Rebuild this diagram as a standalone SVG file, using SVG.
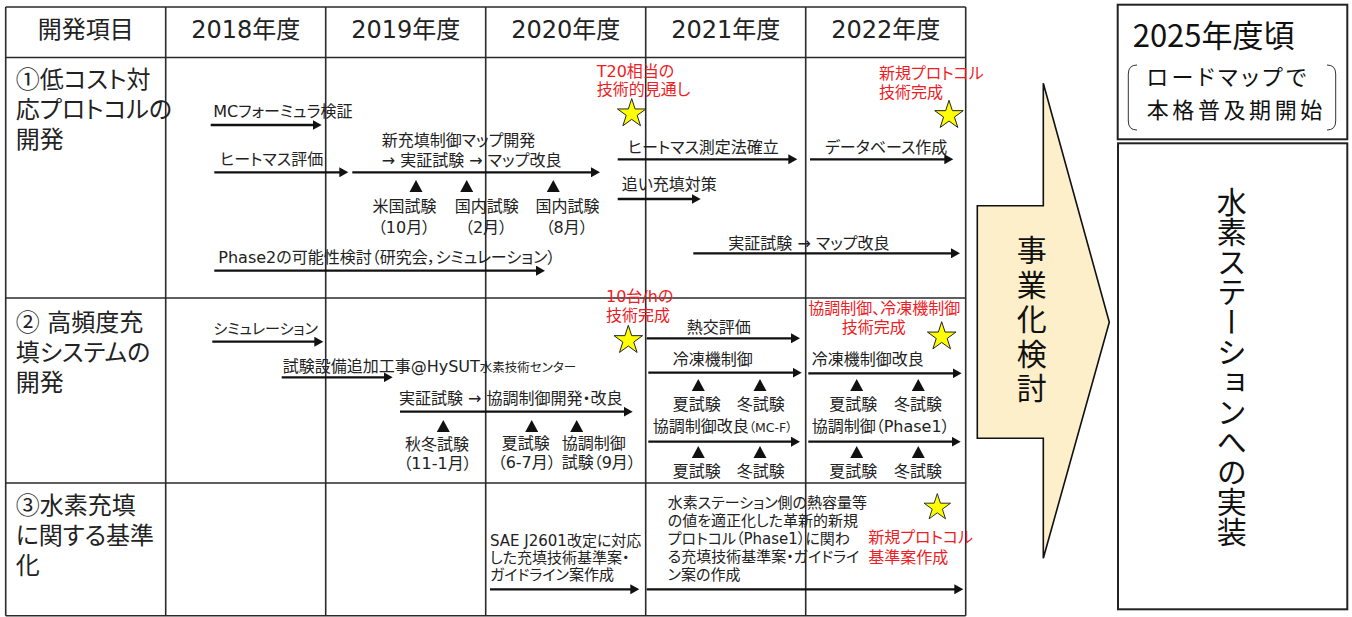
<svg xmlns="http://www.w3.org/2000/svg" width="1352" height="617" viewBox="0 0 1352 617">
<style>
text{font-family:"DejaVu Sans","Noto Sans CJK JP",sans-serif;fill:#222;font-feature-settings:"palt" 1;}
.hd{font-size:24px;text-anchor:middle;}
.lb{font-size:24px;}
.t{font-size:16px;}
.ts{font-size:15px;}
.sm{font-size:12.5px;}
.c{text-anchor:middle;}
.r{fill:#EE1C25;font-size:16px;}
.cj{font-family:"Noto Sans CJK JP",sans-serif;}
.grid line{stroke:#2a2a2a;stroke-width:1.6;}
.conn line{stroke:#111;stroke-width:2.3;marker-end:url(#ah);}
.box{fill:#fff;stroke:#222;stroke-width:2;}
.star{fill:#FFFF00;stroke:#222;stroke-width:1;}
.tri{fill:#111;}
.rp{font-family:"Noto Sans CJK JP",sans-serif;fill:#111;}
.vt{writing-mode:vertical-rl;font-feature-settings:normal;}
</style>
<defs>
<marker id="ah" markerUnits="userSpaceOnUse" markerWidth="10" markerHeight="10" refX="5" refY="5" orient="auto">
<path d="M0,0 L9,5 L0,10 Z" fill="#111"/>
</marker>
<path id="star" class="star" d="M0,-15 L3.37,-4.64 L14.27,-4.64 L5.45,1.77 L8.82,12.14 L0,5.73 L-8.82,12.14 L-5.45,1.77 L-14.27,-4.64 L-3.37,-4.64 Z"/>
<polygon id="tri" class="tri" points="-6.5,12 6.5,12 0,0"/>
</defs>
<rect width="1352" height="617" fill="#fff"/>

<g id="table-grid" class="grid">
<line x1="5.7" y1="7" x2="965.7" y2="7"/>
<line x1="5.7" y1="57.5" x2="965.7" y2="57.5"/>
<line x1="5.7" y1="298" x2="965.7" y2="298"/>
<line x1="5.7" y1="483" x2="965.7" y2="483"/>
<line x1="5.7" y1="615.7" x2="965.7" y2="615.7"/>
<line x1="5.7" y1="7" x2="5.7" y2="615.7"/>
<line x1="165.7" y1="7" x2="165.7" y2="615.7"/>
<line x1="325.7" y1="7" x2="325.7" y2="615.7"/>
<line x1="485.7" y1="7" x2="485.7" y2="615.7"/>
<line x1="645.7" y1="7" x2="645.7" y2="615.7"/>
<line x1="805.7" y1="7" x2="805.7" y2="615.7"/>
<line x1="965.7" y1="7" x2="965.7" y2="615.7"/>
</g>

<g id="header">
<text class="hd" x="85.7" y="38">開発項目</text>
<text class="hd" x="245.7" y="38">2018年度</text>
<text class="hd" x="405.7" y="38">2019年度</text>
<text class="hd" x="565.7" y="38">2020年度</text>
<text class="hd" x="725.7" y="38">2021年度</text>
<text class="hd" x="885.7" y="38">2022年度</text>
</g>

<g id="row1-label">
<text class="lb" x="15.7" y="88"><tspan class="cj">①</tspan>低コスト対</text>
<text class="lb" x="15.7" y="118">応プロトコルの</text>
<text class="lb" x="15.7" y="148">開発</text>
</g>
<g id="row2-label">
<text class="lb" x="15.7" y="331"><tspan class="cj">②</tspan> 高頻度充</text>
<text class="lb" x="15.7" y="361">填システムの</text>
<text class="lb" x="15.7" y="391">開発</text>
</g>
<g id="row3-label">
<text class="lb" x="15.7" y="514"><tspan class="cj">③</tspan>水素充填</text>
<text class="lb" x="15.7" y="544">に関する基準</text>
<text class="lb" x="15.7" y="574">化</text>
</g>

<g id="task-mc"><text class="t" x="213.3" y="117">MCフォーミュラ検証</text></g>
<g id="task-heatmass"><text class="t" x="220" y="165">ヒートマス評価</text></g>
<g id="task-map">
<text class="t" x="381.7" y="146">新充填制御マップ開発</text>
<text class="t" x="381.7" y="166">→ 実証試験 → マップ改良</text>
</g>
<g id="tests-row1">
<use href="#tri" x="416" y="180"/>
<use href="#tri" x="466.7" y="180"/>
<use href="#tri" x="553.3" y="180"/>
<text class="t c" x="404.5" y="212">米国試験</text>
<text class="t c" x="404" y="233">（10月）</text>
<text class="t c" x="486.7" y="212">国内試験</text>
<text class="t c" x="486" y="233">（2月）</text>
<text class="t c" x="567.5" y="212">国内試験</text>
<text class="t c" x="566.7" y="233">（8月）</text>
</g>
<g id="task-phase2"><text class="t" x="218.3" y="263">Phase2の可能性検討（研究会，シミュレーション）</text></g>
<g id="milestone-t20">
<text class="r" x="596.7" y="76.5">T20相当の</text>
<text class="r" x="596.7" y="95">技術的見通し</text>
<use href="#star" x="631.7" y="113.6"/>
</g>
<g id="milestone-protocol">
<text class="r" x="879" y="79">新規プロトコル</text>
<text class="r" x="879" y="98">技術完成</text>
<use href="#star" x="949" y="115.3"/>
</g>
<g id="task-hm-method"><text class="t" x="627.7" y="153">ヒートマス測定法確立</text></g>
<g id="task-database"><text class="t" x="825" y="153">データベース作成</text></g>
<g id="task-oi"><text class="t" x="621.7" y="189.5">追い充填対策</text></g>
<g id="task-verify1"><text class="t" x="728.3" y="248.5">実証試験 → マップ改良</text></g>

<g id="task-sim"><text class="ts" x="213.3" y="334">シミュレーション</text></g>
<g id="task-facility"><text class="t" x="282.7" y="372">試験設備追加工事@HySUT<tspan class="sm">水素技術センター</tspan></text></g>
<g id="task-coop"><text class="t" x="399" y="404">実証試験 → 協調制御開発・改良</text></g>
<g id="tests-row2">
<use href="#tri" x="443.3" y="420"/>
<use href="#tri" x="531.7" y="420"/>
<use href="#tri" x="576.7" y="420"/>
<text class="t c" x="437" y="450">秋冬試験</text>
<text class="t c" x="437.5" y="469">（11-1月）</text>
<text class="t c" x="525.8" y="449">夏試験</text>
<text class="t c" x="526.7" y="468">（6-7月）</text>
<text class="t" x="561.7" y="449">協調制御</text>
<text class="t" x="561.7" y="468">試験（9月）</text>
</g>
<g id="milestone-10">
<text class="r" x="606" y="302">10台/hの</text>
<text class="r" x="606" y="321">技術完成</text>
<use href="#star" x="628.3" y="340.3"/>
</g>
<g id="task-heatex"><text class="t" x="686.7" y="333">熱交評価</text></g>
<g id="task-chiller">
<text class="t" x="672.7" y="365">冷凍機制御</text>
<use href="#tri" x="698.3" y="379"/>
<use href="#tri" x="760" y="379"/>
<text class="t" x="672.7" y="410">夏試験</text>
<text class="t" x="736.7" y="410">冬試験</text>
</g>
<g id="task-coop-mcf">
<text class="t" x="652.7" y="432">協調制御改良<tspan class="sm">（MC-F）</tspan></text>
<use href="#tri" x="698.3" y="446"/>
<use href="#tri" x="760" y="446"/>
<text class="t" x="672.7" y="476.5">夏試験</text>
<text class="t" x="736.7" y="476.5">冬試験</text>
</g>
<g id="milestone-coop">
<text class="r" x="808.3" y="314">協調制御、冷凍機制御</text>
<text class="r" x="841.7" y="333">技術完成</text>
<use href="#star" x="941.7" y="336.7"/>
</g>
<g id="task-chiller2">
<text class="t" x="811.7" y="365">冷凍機制御改良</text>
<use href="#tri" x="856.7" y="379"/>
<use href="#tri" x="918.3" y="379"/>
<text class="t" x="829.3" y="410">夏試験</text>
<text class="t" x="894" y="410">冬試験</text>
</g>
<g id="task-coop-phase1">
<text class="t" x="811.7" y="432">協調制御（Phase1）</text>
<use href="#tri" x="856.7" y="446"/>
<use href="#tri" x="918.3" y="446"/>
<text class="t" x="829.3" y="476.5">夏試験</text>
<text class="t" x="894" y="476.5">冬試験</text>
</g>

<g id="task-sae">
<text class="ts" x="490" y="546">SAE J2601改定に対応</text>
<text class="ts" x="490" y="563">した充填技術基準案・</text>
<text class="ts" x="490" y="580">ガイドライン案作成</text>
</g>
<g id="task-new-protocol">
<text class="ts" x="667.7" y="508">水素ステーション側の熱容量等</text>
<text class="ts" x="667.7" y="526">の値を適正化した革新的新規</text>
<text class="ts" x="667.7" y="544">プロトコル（Phase1）に関わ</text>
<text class="ts" x="667.7" y="562">る充填技術基準案・ガイドライ</text>
<text class="ts" x="667.7" y="580">ン案の作成</text>
</g>
<g id="milestone-standard">
<use href="#star" transform="translate(937.3,507.5) scale(0.93)"/>
<text class="r" x="868.3" y="543">新規プロトコル</text>
<text class="r" x="868.3" y="562.5">基準案作成</text>
</g>

<g id="connectors" class="conn">
<line x1="210.7" y1="125" x2="317.7" y2="125"/>
<line x1="214.3" y1="172.3" x2="344.3" y2="172.3"/>
<line x1="352.3" y1="172.3" x2="596" y2="172.3"/>
<line x1="214.3" y1="270.7" x2="541" y2="270.7"/>
<line x1="617.7" y1="159.3" x2="793.3" y2="159.3"/>
<line x1="810" y1="159.3" x2="949.3" y2="159.3"/>
<line x1="617.7" y1="199" x2="696.7" y2="199"/>
<line x1="693.3" y1="253.3" x2="956" y2="253.3"/>
<line x1="212.3" y1="341.7" x2="319.3" y2="341.7"/>
<line x1="281.7" y1="377.3" x2="388.7" y2="377.3"/>
<line x1="400" y1="411.7" x2="628.7" y2="411.7"/>
<line x1="646.7" y1="338.3" x2="796" y2="338.3"/>
<line x1="648.3" y1="372.7" x2="797.7" y2="372.7"/>
<line x1="648.3" y1="441.7" x2="796" y2="441.7"/>
<line x1="808.3" y1="373.3" x2="957.7" y2="373.3"/>
<line x1="808.3" y1="441.7" x2="956.7" y2="441.7"/>
<line x1="490" y1="589.3" x2="635.3" y2="589.3"/>
<line x1="646.7" y1="589.3" x2="959.3" y2="589.3"/>
</g>

<g id="commercialization">
<polygon points="977.3,205.7 1043.3,205.7 1043.3,83.3 1109.3,322.3 1043.3,558.3 1043.3,438.3 977.3,438.3" fill="#FDEFC9" stroke="#111" stroke-width="1.6"/>
<text class="rp vt" font-size="30" letter-spacing="4.5" x="1031.7" y="235">事業化検討</text>
</g>

<g id="target-2025">
<rect class="box" x="1117.7" y="4.7" width="229.6" height="134.6"/>
<text class="rp" font-size="31" x="1132.7" y="46.5">2025年度頃</text>
<path d="M1137,65 Q1128.3,65 1128.3,74 L1128.3,121 Q1128.3,130 1137,130" fill="none" stroke="#333" stroke-width="1"/>
<path d="M1327,65 Q1335.7,65 1335.7,74 L1335.7,121 Q1335.7,130 1327,130" fill="none" stroke="#333" stroke-width="1"/>
<text class="rp" font-size="22" letter-spacing="3.6" x="1146.7" y="85">ロードマップで</text>
<text class="rp" font-size="22" letter-spacing="3.6" x="1146.7" y="117.5">本格普及期開始</text>
</g>

<g id="implementation">
<rect class="box" x="1118" y="143.3" width="229.3" height="466"/>
<text class="rp vt" font-size="30" x="1231.7" y="187">水素ステーションへの実装</text>
</g>
</svg>
